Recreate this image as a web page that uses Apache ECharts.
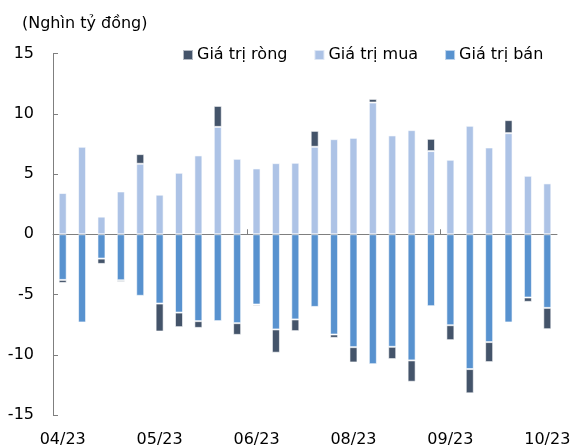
<!DOCTYPE html>
<html><head><meta charset="utf-8">
<script src="https://cdn.jsdelivr.net/npm/echarts@6/dist/echarts.min.js"></script>
<style>html,body{margin:0;padding:0;background:#fff}#c{width:574px;height:448px}</style>
</head><body><div id="c"></div>
<script>
const categories = ["04/23","04/23 w2","04/23 w3","04/23 w4","05/23 w0","05/23","05/23 w2","05/23 w3","05/23 w4","06/23 w0","06/23","06/23 w2","06/23 w3","06/23 w4","07/23","08/23","08/23 w2","08/23 w3","08/23 w4","09/23 w0","09/23","09/23 w2","09/23 w3","09/23 w4","10/23 w0","10/23"];
const xTickLabels = {"04/23":"04/23","05/23":"05/23","06/23":"06/23","08/23":"08/23","09/23":"09/23","10/23":"10/23"};
const buyValues = [3.42,7.26,1.46,3.55,5.85,3.28,5.10,6.54,8.91,6.26,5.46,5.90,5.93,7.26,7.89,8.00,10.93,8.20,8.64,6.90,6.18,9.00,7.20,8.39,4.85,4.22];
const sellValues = [-3.79,-7.32,-2.02,-3.82,-5.11,-5.75,-6.50,-7.21,-7.21,-7.38,-5.83,-7.90,-7.07,-6.03,-8.32,-9.37,-10.78,-9.34,-10.47,-5.97,-7.55,-11.19,-8.95,-7.32,-5.25,-6.11];
const netValues = [-0.25,-0.06,-0.44,-0.13,0.80,-2.32,-1.21,-0.56,1.74,-0.97,-0.11,-1.93,-0.97,1.32,-0.28,-1.27,0.30,-1.02,-1.77,1.02,-1.24,-2.01,-1.66,1.08,-0.36,-1.77];
const yTicks = [-15,-10,-5,0,5,10,15];
// category boundaries (one more than categories) for the zero-line tick marks
const boundaries = categories.map((c,i)=>'b'+i).concat(['b'+categories.length]);

const FONT = "'DejaVu Sans',sans-serif";
const chart = echarts.init(document.getElementById('c'), null, {renderer:'canvas'});
const barBorder = {borderColor:'rgba(255,255,255,0.6)', borderWidth:1};
chart.setOption({
  animation:false,
  textStyle:{fontFamily:FONT},
  graphic:[{type:'text', left:22, top:16, style:{text:'(Nghìn tỷ đồng)', font:'16px '+FONT, fill:'#000'}}],
  legend:{
    left:177, top:42, itemWidth:10, itemHeight:10, itemGap:26,
    icon:'rect',
    textStyle:{fontSize:16, color:'#000', fontFamily:FONT, padding:[0,0,0,-1]},
    data:['Giá trị ròng','Giá trị mua','Giá trị bán']
  },
  grid:{left:53, right:17, top:53.5, bottom:32.5, containLabel:false},
  xAxis:[{
    type:'category', data:categories, position:'bottom',
    axisLine:{show:false, onZero:false}, axisTick:{show:false},
    axisLabel:{interval:4, margin:17, fontSize:16, color:'#000', fontFamily:FONT,
      formatter:(v)=>xTickLabels[v]||''}
  },{
    type:'category', data:boundaries, boundaryGap:false, position:'bottom',
    axisLine:{show:true, onZero:true, lineStyle:{color:'#7f7f7f', width:1}},
    axisTick:{show:true, inside:true, interval:(i)=>i===10||i===20, length:5, lineStyle:{color:'#7f7f7f'}},
    axisLabel:{show:false}
  }],
  yAxis:{
    type:'value', min:-15, max:15, interval:5,
    axisLine:{show:true, lineStyle:{color:'#7f7f7f'}},
    axisTick:{show:true, inside:true, length:5, lineStyle:{color:'#7f7f7f'}},
    splitLine:{show:false},
    axisLabel:{margin:19, fontSize:16, color:'#000', fontFamily:FONT,
      formatter:(v)=>yTicks.includes(v)?String(v):''}
  },
  series:[
    {name:'Giá trị mua', type:'bar', stack:'s', data:buyValues, barWidth:8,
      itemStyle:Object.assign({color:'#adc3e6'}, barBorder)},
    {name:'Giá trị bán', type:'bar', stack:'s', data:sellValues, barWidth:8,
      itemStyle:Object.assign({color:'#5892cf'}, barBorder)},
    {name:'Giá trị ròng', type:'bar', stack:'s', data:netValues, barWidth:8,
      itemStyle:Object.assign({color:'#44546a'}, barBorder)}
  ]
});
</script></body></html>
